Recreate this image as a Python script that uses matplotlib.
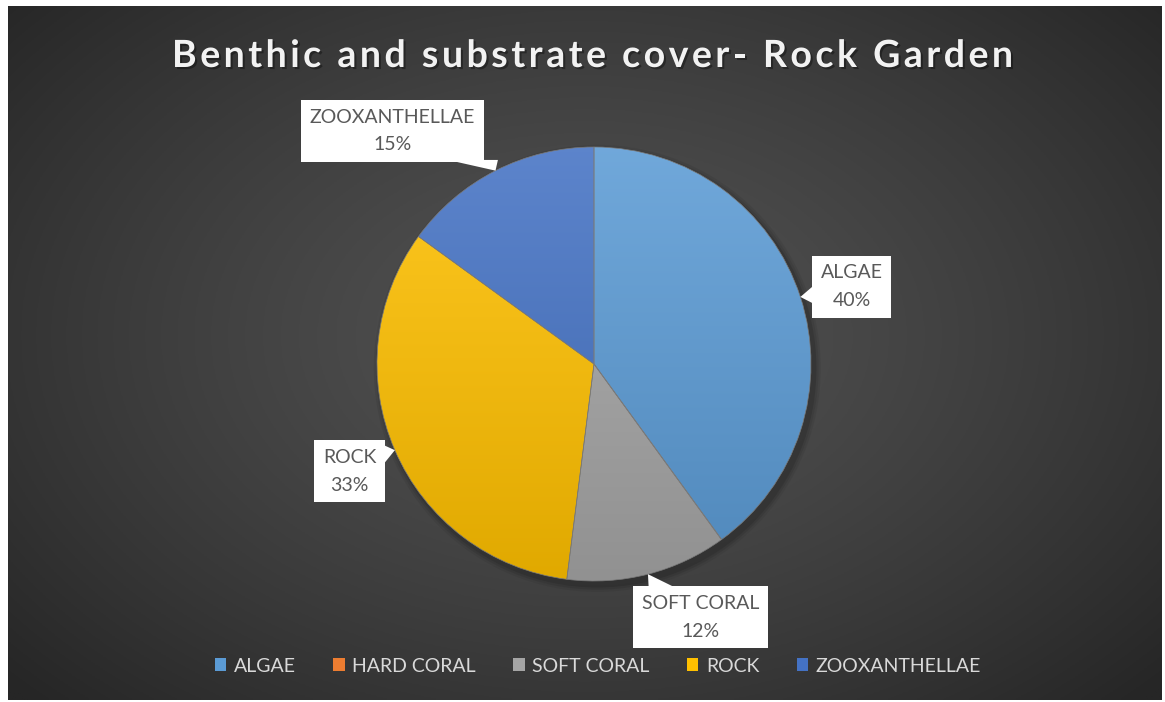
import numpy as np
import matplotlib.pyplot as plt
from matplotlib.patches import Patch, Polygon, Circle
from matplotlib.colors import to_rgb
import matplotlib.patheffects as pe

# data
categories = ["ALGAE", "HARD CORAL", "SOFT CORAL", "ROCK", "ZOOXANTHELLAE"]
values = [40, 0, 12, 33, 15]
pct_labels = ["40%", "0%", "12%", "33%", "15%"]
colors = ["#5B9BD5", "#ED7D31", "#A5A5A5", "#FFC000", "#4472C4"]
title = "Benthic and substrate cover- Rock Garden"

# callout box centres, in pie units (radius = 1)
box_pos = {"ALGAE": (1.187, 0.357), "SOFT CORAL": (0.491, -1.168),
           "ROCK": (-1.126, -0.495), "ZOOXANTHELLAE": (-0.928, 1.074)}

W, H = 1165, 702
cx, cy, R = 594, 364, 217   # pie centre / radius in pixels

plt.rcParams['font.family'] = ['Lato', 'DejaVu Sans']

fig = plt.figure(figsize=(W / 100, H / 100), dpi=100, facecolor='white')

# ---- dark radial-gradient background ----
bg = fig.add_axes([8 / W, 2 / H, (1162 - 8) / W, 694 / H])
bg.axis('off')
gx, gy = np.meshgrid(np.linspace(-1, 1, 400), np.linspace(-1, 1, 260))
d = np.sqrt(gx ** 2 + ((gy + 0.05) * 0.9) ** 2) / 1.35
d = np.clip(d, 0, 1)
c_in = np.array(to_rgb("#525252"))
c_out = np.array(to_rgb("#262626"))
img = c_in + (c_out - c_in) * (d[..., None] ** 1.3)
bg.imshow(img, aspect='auto', extent=(0, 1, 0, 1))

# ---- pie ----
ax = fig.add_axes([0, 0, 1, 1])
ax.patch.set_alpha(0)

# soft shadow
for k, a in enumerate([0.10, 0.08, 0.06]):
    ax.add_patch(Circle((0.015, -0.02), 1.0 + 0.01 * (k + 1), color='black',
                        alpha=a, lw=0, zorder=0))

wedges, _ = ax.pie(values, colors=colors, startangle=90, counterclock=False,
                   radius=1, wedgeprops=dict(linewidth=0.5, edgecolor='#7a7a7a'))

for w, c in zip(wedges, colors):
    base = np.array(to_rgb(c))
    top = base + (1 - base) * 0.13
    bot = base * 0.88
    t = np.linspace(0, 1, 256)[:, None]
    grad = (top + (bot - top) * t[..., None]) * np.ones((1, 2, 1))
    im = ax.imshow(grad, extent=(-1, 1, -1, 1), origin='upper', aspect='auto',
                   zorder=w.get_zorder() + 0.1, interpolation='bilinear')
    im.set_clip_path(w)
    w.set_zorder(w.get_zorder() + 0.2)
    w.set_facecolor('none')

ax.set_xlim(-cx / R, (W - cx) / R)
ax.set_ylim(-(H - cy) / R, cy / R)
ax.axis('off')

# ---- callout labels ----
callouts = []
cum = 0
for cat, v, p in zip(categories, values, pct_labels):
    mid = np.radians(cum + v * 3.6 / 2)
    cum += v * 3.6
    if v == 0:
        continue
    tip = np.array([np.sin(mid), np.cos(mid)])
    bx, by = box_pos[cat]
    txt = ax.text(bx, by, f"{cat}\n{p}", ha='center', va='center', fontsize=14,
                  color='#595959', linespacing=1.75, zorder=6,
                  bbox=dict(boxstyle='square,pad=0.45', facecolor='white',
                            edgecolor='none'))
    callouts.append((txt, np.array([bx, by]), tip))

fig.canvas.draw()
renderer = fig.canvas.get_renderer()
inv = ax.transData.inverted()
half_w = 9 / R   # pointer half width
for txt, c, tip in callouts:
    ext = txt.get_bbox_patch().get_window_extent(renderer)
    (x0, y0), (x1, y1) = inv.transform([[ext.x0, ext.y0], [ext.x1, ext.y1]])
    hw, hh = (x1 - x0) / 2, (y1 - y0) / 2
    vec = tip - c
    tx = hw / abs(vec[0]) if vec[0] != 0 else np.inf
    ty = hh / abs(vec[1]) if vec[1] != 0 else np.inf
    L = np.hypot(*vec)
    if tx < ty:
        e = c + vec * tx
        b = half_w / (abs(vec[0]) / L)
        p1, p2 = e + [0, b], e - [0, b]
        shift = np.array([-np.sign(vec[0]) * 2 / R, 0])
    else:
        e = c + vec * ty
        b = half_w / (abs(vec[1]) / L)
        p1, p2 = e + [b, 0], e - [b, 0]
        shift = np.array([0, -np.sign(vec[1]) * 2 / R])
    ax.add_patch(Polygon([p1 + shift, p2 + shift, tip], closed=True,
                         facecolor='white', edgecolor='none', zorder=5))

# ---- title, with Office-style letter spacing ----
t_fs = 27
t_left, t_right, t_base = 172, 1013, 67
widths = []
for ch in title:
    tt = fig.text(0, 0, ch.replace(' ', '\u00a0'), fontsize=t_fs, fontweight='bold')
    widths.append(tt.get_window_extent(renderer).width)
    tt.remove()
gap = (t_right - t_left - sum(widths)) / (len(title) - 1)
xpos = t_left
for ch, wd in zip(title, widths):
    fig.text(xpos / W, 1 - t_base / H, ch, ha='left', va='baseline',
             fontsize=t_fs, fontweight='bold', color='#f2f2f2',
             path_effects=[pe.withSimplePatchShadow(offset=(1.5, -1.5),
                                                     shadow_rgbFace='black',
                                                     alpha=0.35)])
    xpos += wd + gap

# ---- legend ----
handles = [Patch(facecolor=c, edgecolor='none') for c in colors]
fig.legend(handles, categories, loc='center', bbox_to_anchor=(598 / W, 36 / H),
           ncol=5, frameon=False, fontsize=14, labelcolor='#d9d9d9',
           handlelength=0.6, handleheight=0.6, handletextpad=0.4,
           columnspacing=1.9)

fig.savefig("out.png", dpi=100, facecolor=fig.get_facecolor())
